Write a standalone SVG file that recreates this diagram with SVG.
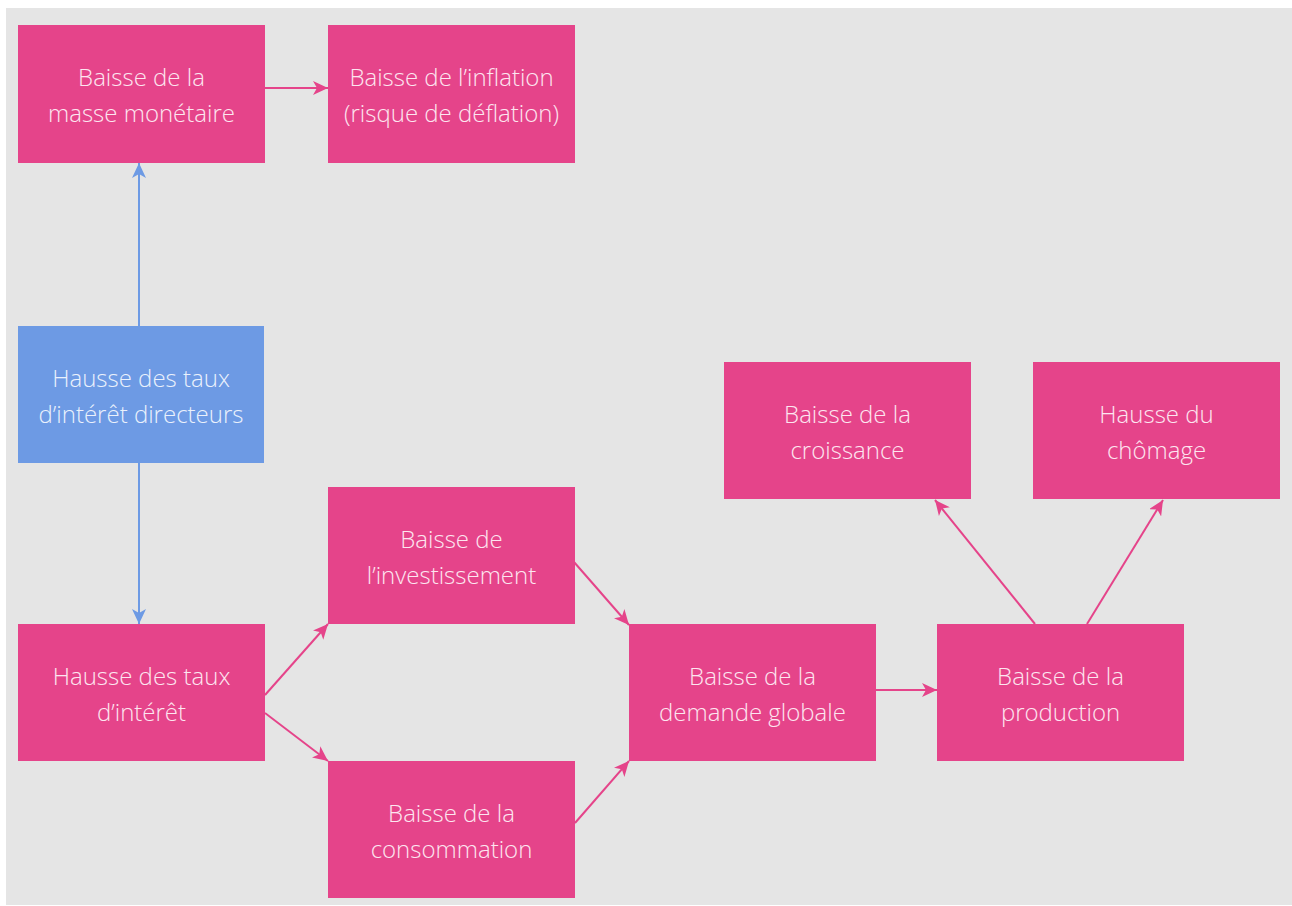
<svg xmlns="http://www.w3.org/2000/svg" width="1292" height="906" viewBox="0 0 1292 906">
<style>
.bg{fill:#e5e5e5}
.p{fill:#e5448a}
.b{fill:#6d9ae4}
.t{font-family:"Open Sans","Liberation Sans",sans-serif;font-size:24px;font-weight:300;fill:#fde6f0;text-anchor:middle}
.tb{fill:#eaf1fc}
.cp{stroke:#e5448a;stroke-width:2;fill:none}
.cb{stroke:#6d9ae4;stroke-width:2;fill:none}
</style>
<defs>
<marker id="ap" markerUnits="userSpaceOnUse" markerWidth="16" markerHeight="14" refX="15" refY="7" orient="auto" viewBox="0 0 16 14">
<path d="M0,0 L15,7 L0,14 L4,7 z" fill="#e5448a"/>
</marker>
<marker id="ab" markerUnits="userSpaceOnUse" markerWidth="16" markerHeight="14" refX="15" refY="7" orient="auto" viewBox="0 0 16 14">
<path d="M0,0 L15,7 L0,14 L4,7 z" fill="#6d9ae4"/>
</marker>
</defs>
<rect x="0" y="0" width="1292" height="906" fill="#ffffff"/>
<rect class="bg" x="6" y="8" width="1286" height="897"/>
<g id="connectors">
<line class="cp" x1="265" y1="88" x2="328" y2="88" marker-end="url(#ap)"/>
<line class="cb" x1="139" y1="326" x2="139" y2="163" marker-end="url(#ab)"/>
<line class="cb" x1="139" y1="463" x2="139" y2="624" marker-end="url(#ab)"/>
<line class="cp" x1="265" y1="695" x2="328" y2="624" marker-end="url(#ap)"/>
<line class="cp" x1="265" y1="713" x2="328" y2="761" marker-end="url(#ap)"/>
<line class="cp" x1="574" y1="562" x2="629" y2="625" marker-end="url(#ap)"/>
<line class="cp" x1="575" y1="823" x2="629" y2="761" marker-end="url(#ap)"/>
<line class="cp" x1="876" y1="690" x2="937" y2="690" marker-end="url(#ap)"/>
<line class="cp" x1="1035" y1="624" x2="935" y2="500" marker-end="url(#ap)"/>
<line class="cp" x1="1087" y1="624" x2="1163" y2="500" marker-end="url(#ap)"/>
</g>
<g id="n1"><rect class="p" x="18" y="25" width="247" height="138"/><text class="t" x="141.5" y="86">Baisse de la</text><text class="t" x="141.5" y="122">masse monétaire</text></g>
<g id="n2"><rect class="p" x="328" y="25" width="247" height="138"/><text class="t" x="451.5" y="86">Baisse de l’inflation</text><text class="t" x="451.5" y="122">(risque de déflation)</text></g>
<g id="n3"><rect class="b" x="18" y="326" width="246" height="137"/><text class="t tb" x="141" y="387">Hausse des taux</text><text class="t tb" x="141" y="423">d’intérêt directeurs</text></g>
<g id="n4"><rect class="p" x="18" y="624" width="247" height="137"/><text class="t" x="141.5" y="685">Hausse des taux</text><text class="t" x="141.5" y="721">d’intérêt</text></g>
<g id="n5"><rect class="p" x="328" y="487" width="247" height="137"/><text class="t" x="451.5" y="548">Baisse de</text><text class="t" x="451.5" y="584">l’investissement</text></g>
<g id="n6"><rect class="p" x="328" y="761" width="247" height="137"/><text class="t" x="451.5" y="822">Baisse de la</text><text class="t" x="451.5" y="858">consommation</text></g>
<g id="n7"><rect class="p" x="629" y="624" width="247" height="137"/><text class="t" x="752.5" y="685">Baisse de la</text><text class="t" x="752.5" y="721">demande globale</text></g>
<g id="n8"><rect class="p" x="937" y="624" width="247" height="137"/><text class="t" x="1060.5" y="685">Baisse de la</text><text class="t" x="1060.5" y="721">production</text></g>
<g id="n9"><rect class="p" x="724" y="362" width="247" height="137"/><text class="t" x="847.5" y="423">Baisse de la</text><text class="t" x="847.5" y="459">croissance</text></g>
<g id="n10"><rect class="p" x="1033" y="362" width="247" height="137"/><text class="t" x="1156.5" y="423">Hausse du</text><text class="t" x="1156.5" y="459">chômage</text></g>
</svg>
